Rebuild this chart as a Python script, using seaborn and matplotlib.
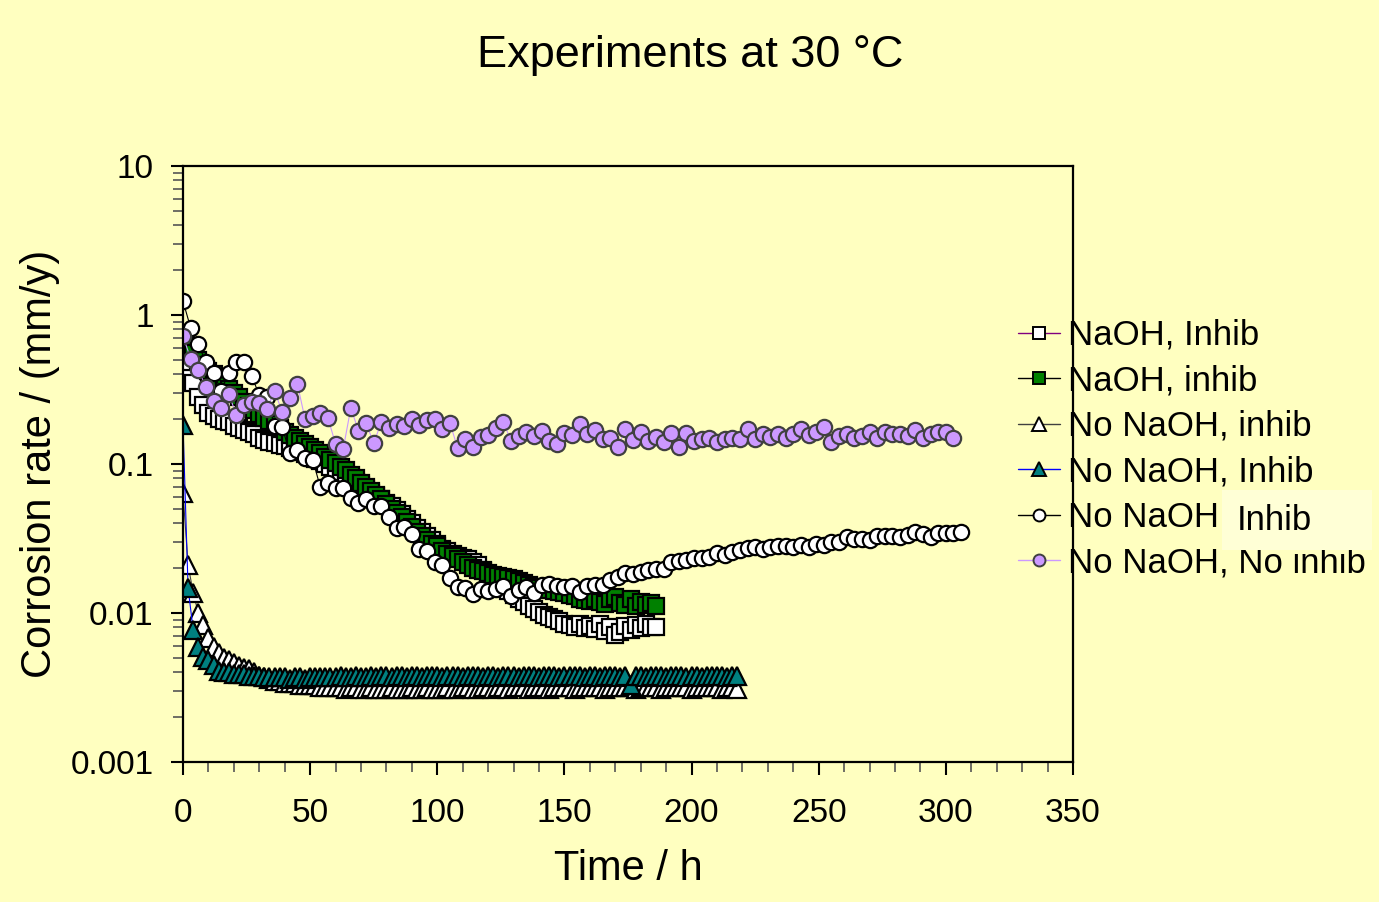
import numpy as np
import matplotlib
matplotlib.use("Agg")
import matplotlib.pyplot as plt
from matplotlib.patches import Rectangle
from matplotlib.ticker import FixedLocator, NullFormatter
import seaborn as sns

# ---------------- data ----------------
title = "Experiments at 30 °C"
xlabel = "Time / h"
ylabel = "Corrosion rate / (mm/y)"
x_ticks = [0, 50, 100, 150, 200, 250, 300, 350]
y_ticks = [0.001, 0.01, 0.1, 1, 10]
y_ticklabels = ["0.001", "0.01", "0.1", "1", "10"]

labels = ["NaOH, Inhib", "NaOH, inhib", "No NaOH, inhib",
          "No NaOH, Inhib", "No NaOH", "No NaOH, No inhib"]
overlay_text = "Inhib"

# sample times (h)
t_sq = np.arange(0, 187, 2)      # square series
t_tri = np.arange(0, 219, 2)     # triangle series
t_circ = np.arange(0, 307, 3)    # open circles
t_purp = np.arange(0, 304, 3)    # purple circles

naoh_Inhib = [0.43, 0.38, 0.35, 0.28, 0.25, 0.22, 0.21, 0.20, 0.195, 0.19,
              0.18, 0.175, 0.17, 0.165, 0.158, 0.15, 0.145, 0.14, 0.138, 0.135,
              0.132, 0.128, 0.124, 0.12, 0.116, 0.112, 0.108, 0.104, 0.10, 0.096,
              0.092, 0.088, 0.084, 0.08, 0.076, 0.072, 0.068, 0.064, 0.061, 0.058,
              0.055, 0.052, 0.049, 0.046, 0.043, 0.040, 0.037, 0.035, 0.033, 0.031,
              0.029, 0.027, 0.026, 0.025, 0.024, 0.0235, 0.023, 0.022, 0.021, 0.0195,
              0.018, 0.017, 0.0158, 0.0148, 0.014, 0.0132, 0.0125, 0.0118, 0.0112, 0.0106,
              0.0101, 0.0097, 0.0094, 0.0091, 0.0088, 0.0085, 0.0083, 0.0081, 0.0084, 0.0079,
              0.0082, 0.0078, 0.0085, 0.0076, 0.0080, 0.0071, 0.0074, 0.0082, 0.0077, 0.0083,
              0.0079, 0.0084, 0.0081, 0.0080]

naoh_inhib = [0.68, 0.62, 0.56, 0.50, 0.46, 0.42, 0.40, 0.37, 0.35, 0.32,
              0.30, 0.28, 0.26, 0.245, 0.23, 0.215, 0.205, 0.195, 0.185, 0.175,
              0.165, 0.157, 0.15, 0.142, 0.136, 0.13, 0.124, 0.118, 0.112, 0.106,
              0.101, 0.096, 0.091, 0.085, 0.080, 0.075, 0.070, 0.066, 0.062, 0.058,
              0.054, 0.050, 0.047, 0.044, 0.041, 0.038, 0.035, 0.033, 0.031, 0.029,
              0.028, 0.026, 0.025, 0.024, 0.023, 0.022, 0.021, 0.020, 0.0195, 0.019,
              0.0185, 0.018, 0.0178, 0.0175, 0.0172, 0.017, 0.0165, 0.016, 0.0155, 0.015,
              0.0148, 0.0145, 0.0143, 0.014, 0.0138, 0.0137, 0.0133, 0.013, 0.0125, 0.0122,
              0.012, 0.0125, 0.0118, 0.0115, 0.0124, 0.0128, 0.0117, 0.0113, 0.0124, 0.0112,
              0.0119, 0.0114, 0.0117, 0.0112]

nonaoh_inhib_tri = [0.064, 0.021, 0.0137, 0.0100, 0.0083, 0.0068, 0.0059, 0.0054, 0.0050, 0.0048,
                    0.0046, 0.0044, 0.0043, 0.0042, 0.0040, 0.0038, 0.0037, 0.0036, 0.0035, 0.0035,
                    0.0034, 0.0034, 0.0034, 0.0033, 0.0033, 0.0033, 0.0033, 0.0032, 0.0032, 0.0032,
                    0.0032, 0.0032, 0.0031, 0.0032, 0.0032, 0.0031, 0.0031, 0.0032, 0.0031, 0.0031,
                    0.0031, 0.0032, 0.0031, 0.0031, 0.0031, 0.0032, 0.0031, 0.0031, 0.0032, 0.0031,
                    0.0031, 0.0031, 0.0032, 0.0031, 0.0031, 0.0032, 0.0032, 0.0031, 0.0031, 0.0032,
                    0.0032, 0.0031, 0.0032, 0.0032, 0.0031, 0.0032, 0.0032, 0.0032, 0.0031, 0.0032,
                    0.0032, 0.0032, 0.0031, 0.0032, 0.0032, 0.0032, 0.0032, 0.0031, 0.0032, 0.0032,
                    0.0032, 0.0032, 0.0032, 0.0031, 0.0032, 0.0032, 0.0032, 0.0032, 0.0032, 0.0031,
                    0.0032, 0.0032, 0.0032, 0.0032, 0.0031, 0.0032, 0.0032, 0.0032, 0.0032, 0.0032,
                    0.0031, 0.0032, 0.0032, 0.0032, 0.0032, 0.0032, 0.0031, 0.0032, 0.0032, 0.0031]

nonaoh_Inhib_tri = [0.183, 0.0147, 0.0077, 0.0059, 0.0051, 0.0048, 0.0045, 0.0041, 0.0040, 0.0040,
                    0.0039, 0.0039, 0.0039, 0.0038, 0.0038, 0.0038, 0.0037, 0.0037, 0.0037, 0.0037,
                    0.0037, 0.0036, 0.0037, 0.0037, 0.0036, 0.0037, 0.0037, 0.0037, 0.0037, 0.0037,
                    0.0037, 0.0038, 0.0037, 0.0037, 0.0038, 0.0037, 0.0037, 0.0038, 0.0037, 0.0038,
                    0.0038, 0.0037, 0.0038, 0.0038, 0.0037, 0.0038, 0.0038, 0.0037, 0.0038, 0.0038,
                    0.0038, 0.0037, 0.0038, 0.0038, 0.0038, 0.0037, 0.0038, 0.0038, 0.0038, 0.0037,
                    0.0038, 0.0038, 0.0037, 0.0038, 0.0038, 0.0038, 0.0037, 0.0038, 0.0038, 0.0038,
                    0.0037, 0.0038, 0.0038, 0.0038, 0.0037, 0.0038, 0.0038, 0.0038, 0.0038, 0.0037,
                    0.0038, 0.0038, 0.0037, 0.0038, 0.0038, 0.0038, 0.0037, 0.0038, 0.0033, 0.0038,
                    0.0038, 0.0037, 0.0038, 0.0038, 0.0038, 0.0037, 0.0038, 0.0038, 0.0038, 0.0037,
                    0.0038, 0.0038, 0.0037, 0.0038, 0.0038, 0.0038, 0.0038, 0.0037, 0.0038, 0.0038]

nonaoh_Inhib_circ = [1.24, 0.82, 0.64, 0.48, 0.41, 0.31, 0.41, 0.48, 0.48, 0.39,
                     0.29, 0.28, 0.18, 0.177, 0.118, 0.124, 0.11, 0.107, 0.070, 0.074,
                     0.069, 0.069, 0.059, 0.055, 0.058, 0.052, 0.052, 0.044, 0.037, 0.038,
                     0.034, 0.027, 0.026, 0.022, 0.021, 0.0172, 0.015, 0.0147, 0.0134, 0.0145,
                     0.014, 0.0145, 0.0152, 0.013, 0.0143, 0.015, 0.0136, 0.0154, 0.0157, 0.0152,
                     0.015, 0.0152, 0.0138, 0.0152, 0.0154, 0.0154, 0.0166, 0.0174, 0.0185, 0.0183,
                     0.0189, 0.0194, 0.0196, 0.0197, 0.022, 0.0225, 0.0227, 0.0234, 0.0234, 0.0237,
                     0.0253, 0.0245, 0.0257, 0.0265, 0.0273, 0.0277, 0.0269, 0.0277, 0.0282, 0.0282,
                     0.0277, 0.0286, 0.0277, 0.029, 0.0286, 0.030, 0.030, 0.0324, 0.0314, 0.0314,
                     0.031, 0.0329, 0.0329, 0.0329, 0.0324, 0.0334, 0.035, 0.0339, 0.0324, 0.0344,
                     0.0344, 0.0344, 0.035]

nonaoh_noinhib = [0.72, 0.51, 0.43, 0.33, 0.265, 0.237, 0.295, 0.213, 0.249, 0.26,
                  0.256, 0.234, 0.31, 0.224, 0.277, 0.344, 0.20, 0.21, 0.22, 0.204,
                  0.136, 0.126, 0.238, 0.167, 0.188, 0.138, 0.191, 0.174, 0.185, 0.18,
                  0.20, 0.183, 0.197, 0.20, 0.171, 0.188, 0.128, 0.147, 0.13, 0.152,
                  0.157, 0.174, 0.191, 0.143, 0.154, 0.164, 0.154, 0.167, 0.143, 0.136,
                  0.162, 0.157, 0.186, 0.16, 0.169, 0.147, 0.149, 0.13, 0.171, 0.145,
                  0.164, 0.143, 0.152, 0.141, 0.162, 0.13, 0.162, 0.143, 0.148, 0.15,
                  0.14, 0.148, 0.15, 0.148, 0.172, 0.147, 0.16, 0.152, 0.16, 0.15,
                  0.16, 0.172, 0.157, 0.165, 0.178, 0.14, 0.155, 0.16, 0.15, 0.155,
                  0.165, 0.15, 0.165, 0.16, 0.16, 0.155, 0.17, 0.15, 0.16, 0.165,
                  0.165, 0.15]

# ---------------- figure ----------------
BG = "#FFFFC0"
sns.set_theme(style="ticks")
plt.rcParams["font.family"] = ["Liberation Sans", "DejaVu Sans"]
plt.rcParams["text.color"] = "black"
plt.rcParams["axes.labelcolor"] = "black"
plt.rcParams["xtick.color"] = "black"
plt.rcParams["ytick.color"] = "black"

fig = plt.figure(figsize=(13.79, 9.02), dpi=100, facecolor=BG)
ax = fig.add_axes([183 / 1379, 1 - 762 / 902, 890 / 1379, 596 / 902])
ax.set_facecolor(BG)

series = [
    (t_sq, naoh_Inhib, "s", "white", "black", "#800080", 11.0),
    (t_sq, naoh_inhib, "s", "#008000", "black", "black", 11.0),
    (t_tri, nonaoh_inhib_tri, "^", "white", "black", "#404040", 13.0),
    (t_tri, nonaoh_Inhib_tri, "^", "#008080", "black", "#0000FF", 13.0),
    (t_circ, nonaoh_Inhib_circ, "o", "white", "black", "black", 11.0),
    (t_purp, nonaoh_noinhib, "o", "#CC99FF", "#404040", "#CC99FF", 11.0),
]

handles = []
for (tt, vv, mk, fc, ec, lc, ms), lab in zip(series, labels):
    n_before = len(ax.lines)
    sns.lineplot(x=tt, y=vv, ax=ax, sort=False, estimator=None, color=lc,
                 linewidth=0.8, marker=mk, markersize=ms, markerfacecolor=fc,
                 markeredgecolor=ec, markeredgewidth=1.6, legend=False)
    for ln in ax.lines[n_before:]:
        ln.set_markersize(ms)
        ln.set_markeredgewidth(1.6)
        ln.set_markerfacecolor(fc)
        ln.set_markeredgecolor(ec)
    h, = ax.plot([], [], color=lc, linewidth=1.0, marker=mk, markersize=ms * 0.78,
                 markerfacecolor=fc, markeredgecolor=ec, markeredgewidth=1.4)
    handles.append(h)

ax.set_yscale("log")
ax.set_xlim(0, 350)
ax.set_ylim(0.001, 10)
ax.set_xticks(x_ticks)
ax.set_xticklabels([str(v) for v in x_ticks])
ax.set_yticks(y_ticks)
ax.set_yticklabels(y_ticklabels)
ax.xaxis.set_minor_locator(FixedLocator(np.arange(0, 351, 10)))
ax.yaxis.set_minor_locator(matplotlib.ticker.LogLocator(base=10, subs=np.arange(2, 10)))
ax.yaxis.set_minor_formatter(NullFormatter())

for s in ax.spines.values():
    s.set_linewidth(1.6)
    s.set_color("black")
ax.tick_params(axis="both", which="major", direction="out", length=9, width=1.5,
               labelsize=24, color="black", labelcolor="black")
ax.tick_params(axis="x", which="major", pad=17)
ax.tick_params(axis="y", which="major", pad=12)
ax.tick_params(axis="both", which="minor", direction="out", length=7, width=1.2,
               color="#555555")
ax.tick_params(top=False, right=False, which="both")

ax.set_xlabel(xlabel, fontsize=30, labelpad=14, color="black")
ax.set_ylabel(ylabel, fontsize=30, labelpad=8, color="black")
fig.text(690 / 1379, 1 - 55 / 902, title, fontsize=32.5, ha="center", va="center",
         color="black")

ax.legend(handles, labels, loc="center left", bbox_to_anchor=(1018 / 1379, 1 - 449 / 902),
          bbox_transform=fig.transFigure, frameon=False, fontsize=25,
          handlelength=1.2, handletextpad=0.25, labelspacing=0.36, borderpad=0,
          borderaxespad=0, labelcolor="black")

# overlaid text box from the original slide
fig.patches.append(Rectangle((1222 / 1379, 1 - 550 / 902), 150 / 1379, 60 / 902,
                             transform=fig.transFigure, facecolor="#FFFFD6",
                             edgecolor="none", zorder=5))
fig.text(1237 / 1379, 1 - 521 / 902, overlay_text, fontsize=25, ha="left", va="center",
         zorder=6, color="black")

fig.savefig("out.png", dpi=100, facecolor=BG)
